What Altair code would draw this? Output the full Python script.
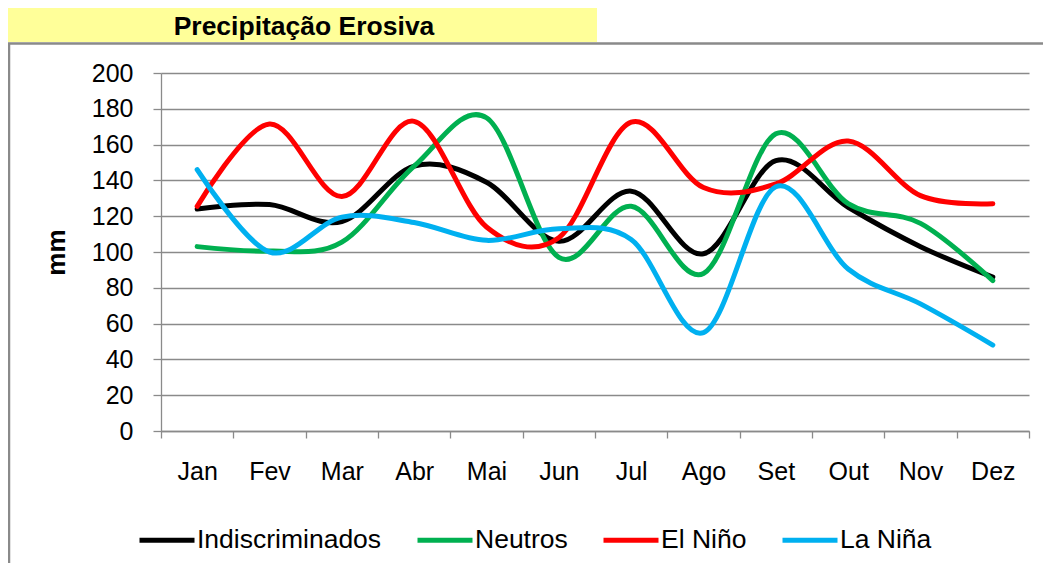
import altair as alt
import pandas as pd

meses = ["Jan", "Fev", "Mar", "Abr", "Mai", "Jun", "Jul", "Ago", "Set", "Out", "Nov", "Dez"]
series = ["Indiscriminados", "Neutros", "El Niño", "La Niña"]
cores = ["#000000", "#00B050", "#FF0000", "#00B0F0"]

indiscriminados = [124, 126.5, 117, 148, 139, 106, 134, 99, 151, 125, 103, 86]
neutros = [103, 100.5, 105.5, 148, 175, 97, 125.5, 88, 166, 127, 116, 84]
el_nino = [125.5, 171.5, 131, 173, 114, 108, 172.5, 136, 138, 162, 131.5, 127]
la_nina = [146, 100, 119.5, 116.5, 106.5, 113, 107, 55, 136.5, 90.5, 71, 48]

titulo = "Precipitação Erosiva"
eixo_y = "mm"

valores = [indiscriminados, neutros, el_nino, la_nina]
rows = []
for nome, vals in zip(series, valores):
    for m, v in zip(meses, vals):
        rows.append({"mes": m, "serie": nome, "valor": v})
df = pd.DataFrame(rows)

FONT = "Liberation Sans, Arial, sans-serif"
GRAY = "#8a8a8a"
W, H = 868, 358

dummy = pd.DataFrame({"k": [0]})
base_dec = alt.Chart(dummy)

yellow = base_dec.mark_rect(color="#FFFF99").encode(
    x=alt.value(-155), x2=alt.value(436), y=alt.value(-65), y2=alt.value(-31)
)
title_txt = base_dec.mark_text(
    text=titulo, font=FONT, fontSize=26.5, fontWeight="bold", align="center",
    baseline="middle", color="#000000"
).encode(x=alt.value(143), y=alt.value(-46))
border_top = base_dec.mark_rule(color=GRAY, strokeWidth=2.5).encode(
    x=alt.value(-153), x2=alt.value(W + 20), y=alt.value(-29.5)
)
border_left = base_dec.mark_rule(color=GRAY, strokeWidth=2.5).encode(
    x=alt.value(-152), y=alt.value(-30), y2=alt.value(H + 140)
)

lines = alt.Chart(df).mark_line(
    interpolate="cardinal", strokeWidth=5, strokeCap="round", strokeJoin="round"
).encode(
    x=alt.X(
        "mes:N", sort=meses, bandPosition=0.5,
        scale=alt.Scale(type="band", paddingInner=0, paddingOuter=0),
        axis=alt.Axis(
            title=None, labelAngle=0, tickBand="extent", grid=False,
            domainColor=GRAY, domainWidth=1.3, tickColor=GRAY, tickWidth=1.3,
            tickSize=7, labelFont=FONT, labelFontSize=25, labelColor="#000000",
            labelPadding=21
        ),
    ),
    y=alt.Y(
        "valor:Q",
        scale=alt.Scale(domain=[0, 200], nice=False, zero=True),
        axis=alt.Axis(
            values=list(range(0, 201, 20)), title=eixo_y, grid=True,
            gridColor=GRAY, gridWidth=1.3, domainColor=GRAY, domainWidth=1.3,
            tickColor=GRAY, tickWidth=1.3, tickSize=8, labelFont=FONT,
            labelFontSize=25, labelColor="#000000", labelPadding=20,
            titleFont=FONT, titleFontSize=26, titleFontWeight="bold",
            titleColor="#000000", titleX=-97, titleY=179, titleAngle=270,
            titleAlign="center", titleBaseline="alphabetic"
        ),
    ),
    color=alt.Color(
        "serie:N", sort=series,
        scale=alt.Scale(domain=series, range=cores),
        legend=alt.Legend(
            title=None, orient="none", legendX=-24, legendY=437,
            direction="horizontal", columns=4, symbolType="stroke",
            symbolSize=3025, symbolStrokeWidth=5, labelFont=FONT,
            labelFontSize=26.5, labelColor="#000000", labelOffset=0,
            columnPadding=25, padding=0, labelLimit=400
        ),
    ),
    detail="serie:N",
)

chart = alt.layer(border_top, border_left, yellow, title_txt, lines).properties(
    width=W, height=H,
    padding={"left": 153, "top": 65, "right": 14, "bottom": 132},
    autosize=alt.AutoSizeParams(type="none"),
    background="#FFFFFF",
).configure_view(strokeWidth=0)

chart.save("out.html", embed_options={"renderer": "svg", "actions": False})
